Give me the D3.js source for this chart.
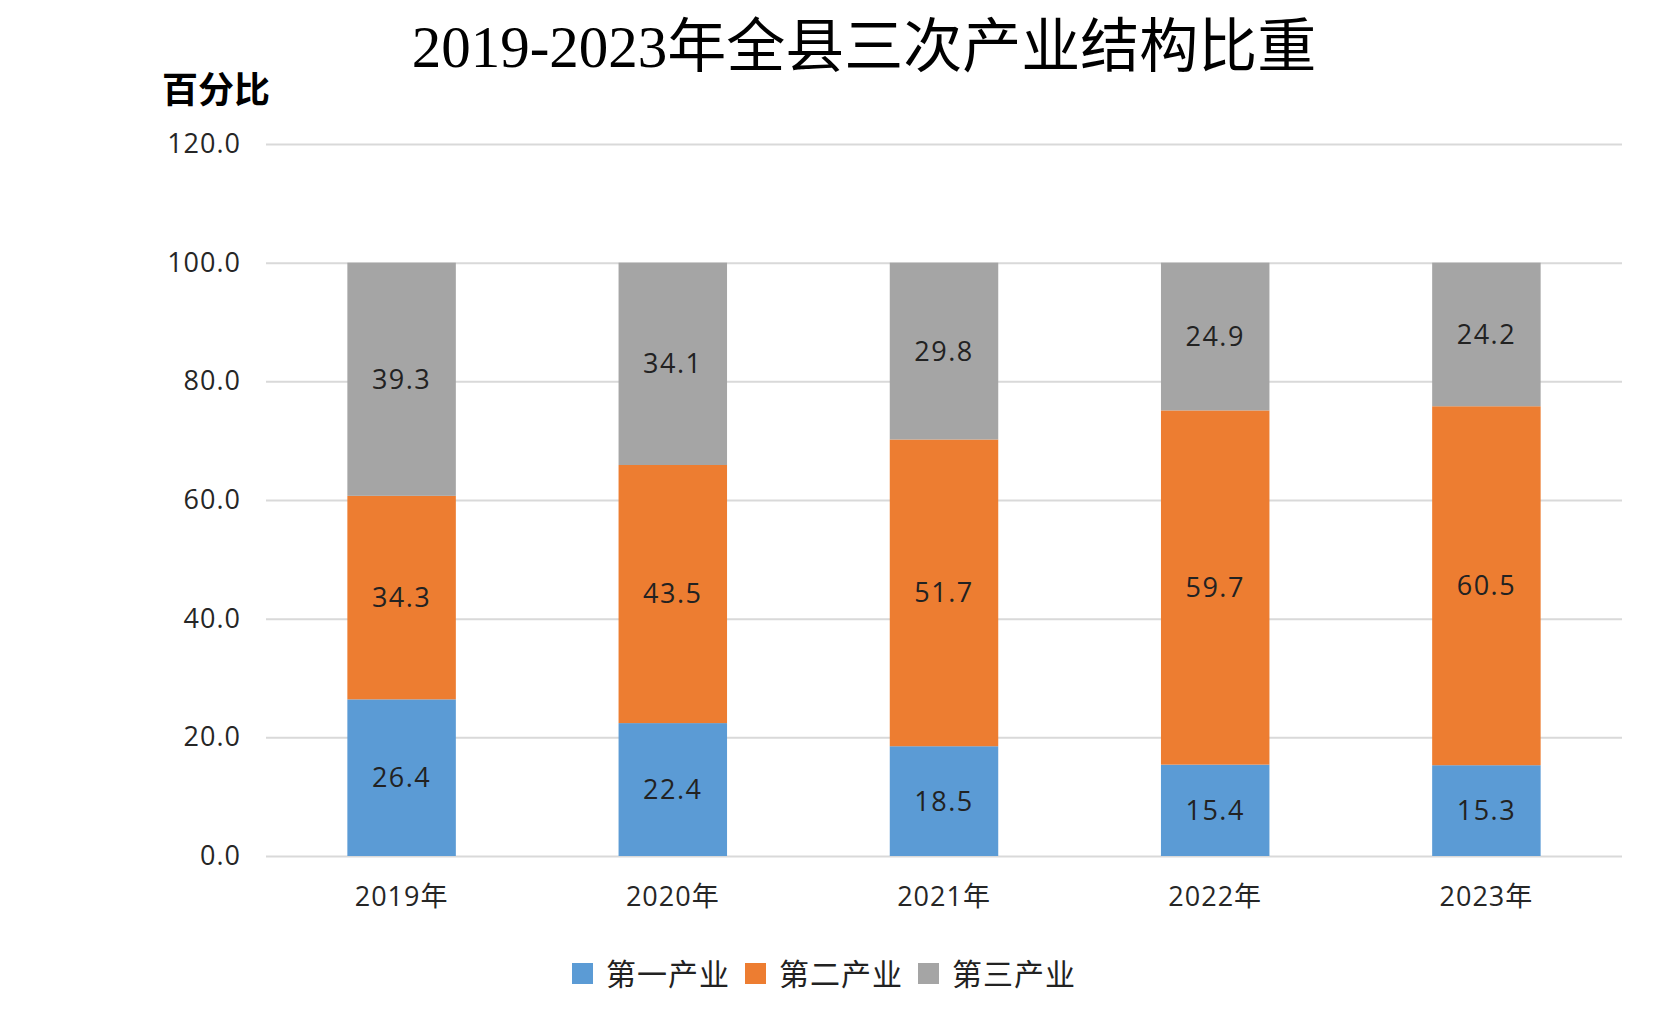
<!DOCTYPE html>
<meta charset='utf-8'>
<html>
  <style>
    body { margin: 0; background: #fff; }
    .title { font-family: "Liberation Serif", "Noto Sans CJK SC", serif; font-size: 59px; fill: #000; }
    .unit { font-family: "Noto Sans CJK SC", sans-serif; font-size: 36px; font-weight: bold; fill: #000; }
    .axis text { font-family: "Open Sans", "Noto Sans CJK SC", sans-serif; font-size: 27px; fill: #262626; letter-spacing: 1px; }
    .axis .tick line { stroke: #d9d9d9; stroke-width: 2px; }
    .label { font-family: "Open Sans", sans-serif; font-size: 27px; fill: #222; letter-spacing: 1.5px; }
    .legend text { font-family: "Noto Sans CJK SC", sans-serif; font-size: 30px; fill: #222; letter-spacing: 1px; }
  </style>
  <head>
    <script src="https://cdn.jsdelivr.net/npm/d3@7/dist/d3.min.js" charset="utf-8"></script>
  </head>
  <body>
    <div id="chart"></div>
    <script type="text/javascript">
      var years = ['2019年', '2020年', '2021年', '2022年', '2023年'],
        industries = ['第一产业', '第二产业', '第三产业'],
        primary = [26.4, 22.4, 18.5, 15.4, 15.3],
        secondary = [34.3, 43.5, 51.7, 59.7, 60.5],
        tertiary = [39.3, 34.1, 29.8, 24.9, 24.2],
        yTicks = [0, 20, 40, 60, 80, 100, 120],
        colors = ['#5b9bd5', '#ed7d31', '#a5a5a5'];

      var width = 1661, height = 1026,
        plot = {left: 266, right: 1622, top: 144, bottom: 856};

      var svg = d3.select('#chart').append('svg')
        .attr('width', width)
        .attr('height', height);

      var x = d3.scaleBand().domain(years).range([plot.left, plot.right])
        .paddingInner(0.6).paddingOuter(0.3);
      var y = d3.scaleLinear().domain([0, 120]).range([plot.bottom, plot.top]);

      // gridlines + y labels
      var yAxis = d3.axisLeft(y)
        .tickValues(yTicks)
        .tickFormat(d3.format('.1f'))
        .tickSize(-(plot.right - plot.left))
        .tickPadding(25);

      svg.append('g')
        .attr('class', 'axis')
        .attr('transform', 'translate(' + plot.left + ',0)')
        .call(yAxis)
        .call(function(g) { g.select('.domain').remove(); });

      // stack the three series
      var rows = years.map(function(d, i) {
        return { year: d, '第一产业': primary[i], '第二产业': secondary[i], '第三产业': tertiary[i] };
      });
      var series = d3.stack().keys(industries)(rows);

      var layer = svg.selectAll('.layer')
        .data(series)
        .enter().append('g')
          .attr('class', 'layer')
          .style('fill', function(d, i) { return colors[i]; });

      layer.selectAll('rect')
        .data(function(d) { return d; })
        .enter().append('rect')
          .attr('x', function(d) { return x(d.data.year); })
          .attr('y', function(d) { return y(d[1]); })
          .attr('width', x.bandwidth())
          .attr('height', function(d) { return y(d[0]) - y(d[1]); });

      layer.selectAll('text')
        .data(function(d) { return d; })
        .enter().append('text')
          .attr('class', 'label')
          .attr('x', function(d) { return x(d.data.year) + x.bandwidth() / 2; })
          .attr('y', function(d) { return y((d[0] + d[1]) / 2); })
          .attr('dy', '0.35em')
          .attr('text-anchor', 'middle')
          .text(function(d) { return d3.format('.1f')(d[1] - d[0]); });

      // x axis line drawn by the 0 gridline, labels only here
      var xAxis = d3.axisBottom(x).tickSize(0);
      svg.append('g')
        .attr('class', 'axis')
        .attr('transform', 'translate(0,' + plot.bottom + ')')
        .call(xAxis)
        .call(function(g) { g.select('.domain').remove(); })
        .selectAll('text')
          .attr('y', 41)
          .attr('dy', '0.35em');

      svg.append('text')
        .attr('class', 'title')
        .attr('x', 864)
        .attr('y', 67)
        .attr('text-anchor', 'middle')
        .text('2019-2023年全县三次产业结构比重');

      svg.append('text')
        .attr('class', 'unit')
        .attr('x', 162)
        .attr('y', 103)
        .text('百分比');

      var legend = svg.selectAll('.legend')
        .data(industries)
        .enter().append('g')
          .attr('class', 'legend')
          .attr('transform', function(d, i) { return 'translate(' + (572 + i * 173) + ',963)'; });

      legend.append('rect')
        .attr('width', 21)
        .attr('height', 21)
        .style('fill', function(d, i) { return colors[i]; });

      legend.append('text')
        .attr('x', 34)
        .attr('y', 11)
        .attr('dy', '0.35em')
        .text(function(d) { return d; });
    </script>
  </body>
</html>
